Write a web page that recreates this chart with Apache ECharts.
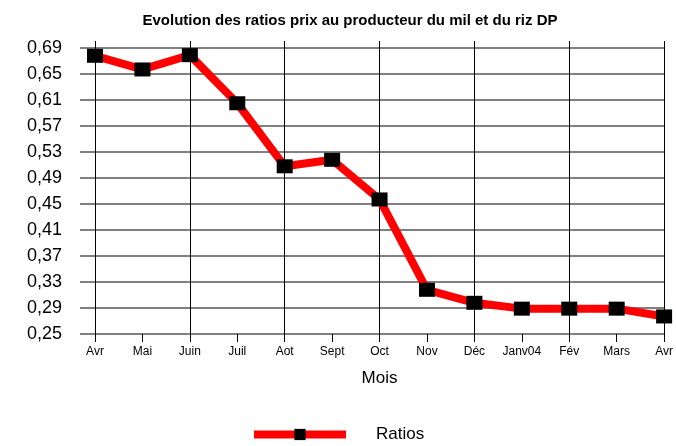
<!DOCTYPE html>
<html><head><meta charset="utf-8">
<script src="https://cdn.jsdelivr.net/npm/echarts@6/dist/echarts.min.js"></script>
<style>html,body{margin:0;padding:0;background:#fff}#c{width:676px;height:446px}</style>
</head><body><div id="c"></div>
<script>
const categories = ['Avr','Mai','Juin','Juil','Aot','Sept','Oct','Nov','Déc','Janv04','Fév','Mars','Avr'];
const ratios = [0.678, 0.657, 0.679, 0.605, 0.508, 0.518, 0.457, 0.318, 0.298, 0.289, 0.289, 0.289, 0.277];
const yMin = 0.25, yMax = 0.69, yStep = 0.04;
const FONT = '"Liberation Sans", Arial, sans-serif';
const chart = echarts.init(document.getElementById('c'));
chart.setOption({
  animation: false,
  title: {
    text: 'Evolution des ratios prix au producteur du mil et du riz DP',
    left: 345, top: 8, textAlign: 'center',
    textStyle: {fontFamily: FONT, fontSize: 15, fontWeight: 'bold', color: '#000'}
  },
  grid: {left: 95, right: 10, top: 48, bottom: 112},
  legend: {
    top: 421, left: 245, itemWidth: 92, itemHeight: 14, itemGap: 20,
    lineStyle: {width: 8},
    textStyle: {fontFamily: FONT, fontSize: 17, color: '#000', padding: [0,0,0,25]},
    data: ['Ratios']
  },
  xAxis: [{
    type: 'category', data: categories, boundaryGap: false,
    name: 'Mois', nameLocation: 'middle', nameGap: 36,
    nameTextStyle: {fontFamily: FONT, fontSize: 17, color: '#000'},
    axisLine: {show: false},
    axisTick: {show: true, length: 8, interval: 0, lineStyle: {color: '#000'}},
    axisLabel: {interval: 0, margin: 12, fontFamily: FONT, fontSize: 12, color: '#000'},
    splitLine: {show: true, interval: 1, lineStyle: {color: '#000', width: 1}}
  }, {
    type: 'category', data: categories, boundaryGap: false, position: 'top',
    axisLine: {show: false},
    axisTick: {show: true, length: 7, interval: 1, lineStyle: {color: '#000'}},
    axisLabel: {show: false},
    splitLine: {show: false}
  }],
  yAxis: {
    type: 'value', min: yMin, max: yMax, interval: yStep,
    axisLine: {show: true, lineStyle: {color: '#000', width: 1}},
    axisTick: {show: true, length: 15, lineStyle: {color: '#808080', width: 2}},
    axisLabel: {margin: 33, fontFamily: FONT, fontSize: 18, color: '#000',
      formatter: v => v.toFixed(2).replace('.', ',')},
    splitLine: {show: true, lineStyle: {color: '#808080', width: 2}}
  },
  series: [{
    name: 'Ratios', type: 'line', data: ratios, xAxisIndex: 0,
    symbol: 'rect', symbolSize: [16, 14],
    itemStyle: {color: '#000'},
    lineStyle: {color: '#ff0000', width: 8}
  }]
});
</script></body></html>
